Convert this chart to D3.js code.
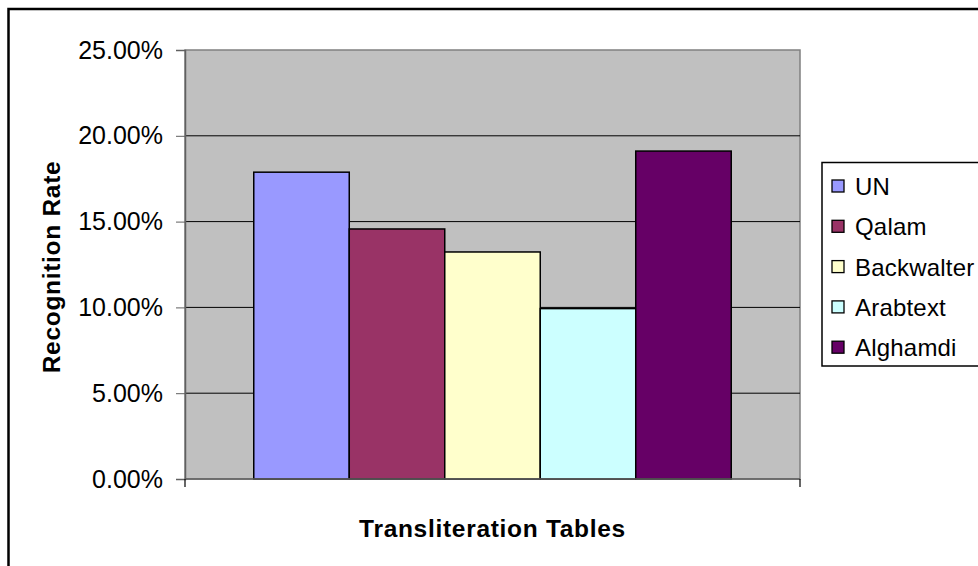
<!DOCTYPE html>
<html lang="en">
<head>
    <meta charset="UTF-8">
    <title>Recognition Rate</title>
    <style>
        body { margin: 0; background: #fff; }
        svg { display: block; font-family: 'Liberation Sans', Arial, sans-serif; }
    </style>
</head>
<body>

    <svg id="svg" width="978" height="566"></svg>

    <script src="https://d3js.org/d3.v7.min.js"></script>
    <script>
        // data
        const series = ['UN', 'Qalam', 'Backwalter', 'Arabtext', 'Alghamdi']
        const values = [0.1788, 0.1457, 0.1323, 0.0993, 0.1911]
        const colors = ['#9999FF', '#993366', '#FFFFCC', '#CCFFFF', '#660066']
        const yTicks = [0, 0.05, 0.10, 0.15, 0.20, 0.25]

        const svg = d3.select('#svg')

        // outer chart frame (runs off the right/bottom edge)
        svg.append('rect')
            .attr('x', 8.5).attr('y', 9)
            .attr('width', 1000).attr('height', 600)
            .attr('fill', '#fff')
            .attr('stroke', '#000')
            .attr('stroke-width', 2.5)

        const plot = { left: 185, right: 800, top: 50, bottom: 479 }

        const xScale = d3.scaleBand()
            .domain(series)
            .range([plot.left, plot.right])
            .paddingInner(0)
            .paddingOuter(0.72)

        const yScale = d3.scaleLinear()
            .domain([0, 0.25])
            .range([plot.bottom, plot.top])

        // plot background
        svg.append('rect')
            .attr('x', plot.left).attr('y', plot.top)
            .attr('width', plot.right - plot.left)
            .attr('height', plot.bottom - plot.top)
            .attr('fill', '#C0C0C0')
            .attr('stroke', '#808080')
            .attr('stroke-width', 1.5)

        // gridlines
        svg.append('g')
            .selectAll('line')
            .data(yTicks.filter(d => d > 0 && d < 0.25))
            .enter()
            .append('line')
            .attr('x1', plot.left).attr('x2', plot.right)
            .attr('y1', d => yScale(d)).attr('y2', d => yScale(d))
            .attr('stroke', '#000')
            .attr('stroke-width', 1)

        // bars
        svg.append('g')
            .selectAll('rect')
            .data(series)
            .enter()
            .append('rect')
            .attr('x', d => xScale(d))
            .attr('y', (d, i) => yScale(values[i]))
            .attr('width', xScale.bandwidth())
            .attr('height', (d, i) => plot.bottom - yScale(values[i]))
            .attr('fill', (d, i) => colors[i])
            .attr('stroke', '#000')
            .attr('stroke-width', 1.5)

        // y axis
        const yAxis = svg.append('g')
            .attr('transform', `translate(${plot.left},0)`)
            .call(d3.axisLeft(yScale)
                .tickValues(yTicks)
                .tickFormat(d3.format('.2%'))
                .tickSize(9)
                .tickPadding(13))
        yAxis.select('.domain').attr('stroke', '#606060').attr('stroke-width', 1.5)
        yAxis.selectAll('.tick line').attr('stroke', '#606060')
        yAxis.selectAll('text')
            .attr('fill', '#000')
            .style('font-size', '25px')
            .style('font-family', "'Liberation Sans', Arial, sans-serif")

        // x axis baseline with end ticks
        const xLine = svg.append('g')
        xLine.append('line')
            .attr('x1', plot.left).attr('x2', plot.right)
            .attr('y1', plot.bottom).attr('y2', plot.bottom)
            .attr('stroke', '#606060').attr('stroke-width', 1.5)
        xLine.selectAll('line.tk')
            .data([plot.left, plot.right])
            .enter()
            .append('line')
            .attr('class', 'tk')
            .attr('x1', d => d).attr('x2', d => d)
            .attr('y1', plot.bottom).attr('y2', plot.bottom + 8)
            .attr('stroke', '#000').attr('stroke-width', 1.2)

        // axis titles
        svg.append('text')
            .text('Transliteration Tables')
            .attr('x', (plot.left + plot.right) / 2)
            .attr('y', 537)
            .attr('text-anchor', 'middle')
            .style('font-size', '24.5px')
            .style('font-weight', 'bold')
            .style('letter-spacing', '0.7px')

        svg.append('text')
            .text('Recognition Rate')
            .attr('transform', 'translate(60,267) rotate(-90)')
            .attr('text-anchor', 'middle')
            .style('font-size', '24.5px')
            .style('font-weight', 'bold')
            .style('letter-spacing', '0.7px')

        // legend
        const legend = svg.append('g')
        legend.append('rect')
            .attr('x', 822).attr('y', 162.5)
            .attr('width', 200).attr('height', 203.5)
            .attr('fill', '#fff')
            .attr('stroke', '#000')
            .attr('stroke-width', 1.5)

        const items = legend.selectAll('g.item')
            .data(series)
            .enter()
            .append('g')
            .attr('class', 'item')
            .attr('transform', (d, i) => `translate(832,${186 + i * 40.3})`)

        items.append('rect')
            .attr('x', 0).attr('y', -6)
            .attr('width', 12).attr('height', 12)
            .attr('fill', (d, i) => colors[i])
            .attr('stroke', '#000')
            .attr('stroke-width', 1.3)

        items.append('text')
            .text(d => d)
            .attr('x', 23)
            .attr('y', 9)
            .style('font-size', '24px')
            .style('letter-spacing', '0.2px')
    </script>
</body>
</html>
